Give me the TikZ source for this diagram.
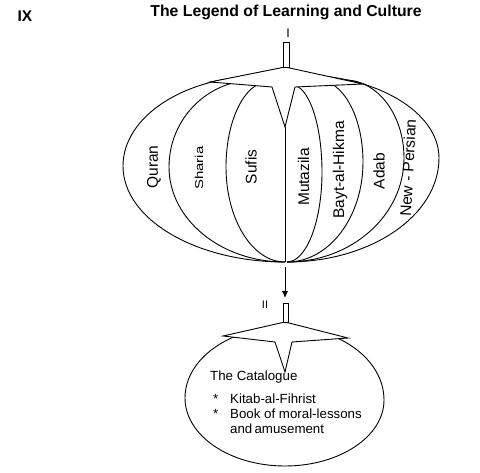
\documentclass[tikz,border=0pt]{standalone}
\usepackage{fontspec}
\setmainfont{Liberation Sans}
\usepackage{graphicx}
\usetikzlibrary{arrows.meta}

\tikzset{
  outline/.style={line width=0.9pt},
  lobetext/.style={font=\fontsize{15.5}{18}\selectfont, rotate=90, inner sep=0pt},
  stembox/.style={draw, line width=0.9pt, fill=white, minimum width=6pt, inner sep=0pt},
}

\begin{document}
\begin{tikzpicture}[x=1pt, y=1pt, yscale=-1]
\useasboundingbox (0,0) rectangle (480,473);
% heading
\node[font=\fontsize{15.8}{18}\selectfont\bfseries] (title) at (286,12) {The Legend of Learning and Culture};
\node[font=\fontsize{15.5}{18}\selectfont\bfseries] (part) at (25,16) {IX};

% upper figure: left lobes
\draw[outline] (262,76) arc[start angle=-90, end angle=-180, x radius=139, y radius=90]
  arc[start angle=180, end angle=90, x radius=162, y radius=96];
\draw[outline] (255,80) arc[start angle=-90, end angle=-180, x radius=86, y radius=87]
  arc[start angle=180, end angle=90, x radius=116, y radius=95];
\draw[outline] (268,82) arc[start angle=-90, end angle=-180, x radius=42, y radius=85]
  arc[start angle=180, end angle=90, x radius=59, y radius=95];
% right lobes
\draw[outline] (292,85) arc[start angle=-90, end angle=0, x radius=30, y radius=87]
  arc[start angle=0, end angle=90, x radius=35, y radius=90];
\draw[outline] (318,80) arc[start angle=-90, end angle=0, x radius=45, y radius=82]
  arc[start angle=0, end angle=90, x radius=76, y radius=100];
\draw[outline] (345,80) arc[start angle=-90, end angle=0, x radius=59, y radius=78]
  arc[start angle=0, end angle=90, x radius=117, y radius=104];
\draw[outline] (300,75) arc[start angle=-90, end angle=0, x radius=139, y radius=83]
  arc[start angle=0, end angle=90, x radius=152, y radius=104];
\draw[outline] (285,127) -- (285,262);
% star and stem on top
\draw[outline, fill=white] (285,67) -- (210,82) -- (272,87) -- (285,127) -- (295,87) -- (363,84) -- cycle;
\node[stembox, minimum height=25pt] (stemone) at (286,54.5) {};
\node[font=\fontsize{12.5}{15}\selectfont] (markone) at (288,33) {I};

\node[lobetext] (quran) at (154,167) {Quran};
\node[lobetext, font=\fontsize{11.5}{14}\selectfont] (sharia) at (199,168) {\scalebox{1.3}[1]{Sharia}};
\node[lobetext] (sufis) at (251,167) {Sufis};
\node[lobetext] (mutazila) at (303.5,177) {Mutazila};
\node[lobetext] (bayt) at (340,170) {Bayt-al-Hikma};
\node[lobetext] (adab) at (379,171) {Adab};
\node[lobetext, rotate=-3] (persian) at (408,168) {New - Persian};

% arrow down to the catalogue
\coordinate (lotusfoot) at (285,267);
\coordinate (arrowtip) at (285,298);
\draw[outline, -{Latex[length=7pt,width=6pt]}] (lotusfoot) -- (arrowtip);

% lower figure
\draw[outline] (285,327) arc[start angle=-90, end angle=-180, x radius=100, y radius=71]
  arc[start angle=180, end angle=90, x radius=100, y radius=68];
\draw[outline] (285,327) arc[start angle=-90, end angle=0, x radius=99, y radius=73]
  arc[start angle=0, end angle=90, x radius=99, y radius=66];
\draw[outline, fill=white] (285,322) -- (223,336) -- (275,342) -- (285,372) -- (292,342) -- (348,338) -- cycle;
\node[stembox, minimum height=19pt, minimum width=5pt] (stemtwo) at (285.5,312.5) {};
\node[font=\fontsize{11}{13}\selectfont] (marktwo) at (265,305) {II};

\node[anchor=north west, inner sep=0pt, align=left, font=\fontsize{13.3}{15}\selectfont] (catalogue) at (210,371)
  {The Catalogue\\[8pt]
   \hspace*{3pt}\makebox[17pt][l]{*}Kitab-al-Fihrist\\
   \hspace*{3pt}\makebox[17pt][l]{*}Book of moral-lessons\\
   \hspace*{20pt}and\,amusement};
\end{tikzpicture}
\end{document}
